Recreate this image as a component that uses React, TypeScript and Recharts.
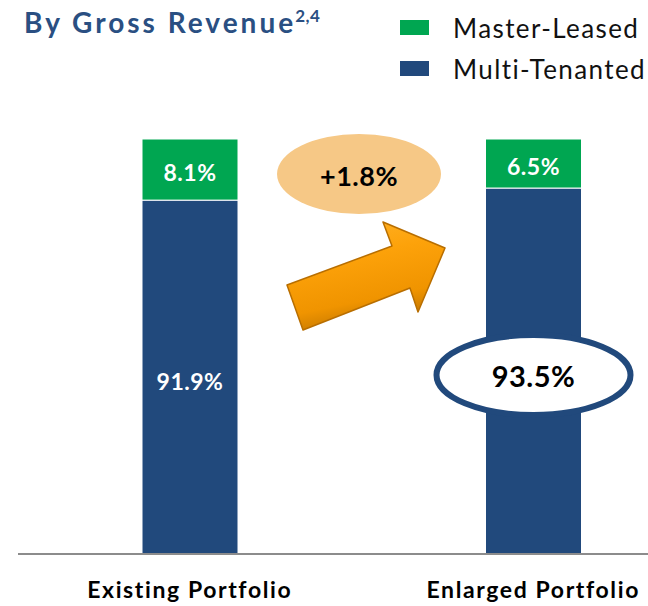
import { BarChart, Bar, XAxis, YAxis, LabelList, Legend } from 'recharts';

const categories = ['Existing Portfolio', 'Enlarged Portfolio'];
const masterLeased = [8.1, 6.5];
const multiTenanted = [91.9, 93.5];
const seriesNames = ['Master-Leased', 'Multi-Tenanted'];
const changeLabel = '+1.8%';
// the value axis is cut: bars start at 45%, not at zero
const axisFloor = 45;

const data = categories.map((name, i) => ({
  name,
  multi: multiTenanted[i],
  master: masterLeased[i],
}));

const CHART_W = 705;
const CHART_H = 606;
const MARGIN = { top: 139, right: 0, left: 18, bottom: 0 };
const X_AXIS_H = 52;
const PLOT_BOTTOM = CHART_H - MARGIN.bottom - X_AXIS_H;

const BLUE = '#21497c';
const GREEN = '#00a651';
const FONT = 'Lato, "DejaVu Sans", sans-serif';

function MasterLabel(props: any) {
  const { x, y, width, height, value } = props;
  return (
    <text
      x={x + width / 2}
      y={y + height / 2 + 2}
      fill="#fff"
      fontFamily={FONT}
      fontWeight={700}
      fontSize={23}
      letterSpacing={0.5}
      textAnchor="middle"
      dominantBaseline="central"
    >
      {value}%
    </text>
  );
}

function MultiLabel(props: any) {
  const { x, y, width, height, value, index } = props;
  const cx = x + width / 2;
  const bottom = Math.min(y + height, PLOT_BOTTOM);
  const cy = (y + bottom) / 2 + 4;

  // the enlarged portfolio value is called out in a ring
  if (index === 1) {
    return (
      <g>
        <ellipse cx={cx} cy={cy} rx={97} ry={40} fill="#fff" stroke={BLUE} strokeWidth={6} />
        <text
          x={cx}
          y={cy}
          fill="#000"
          fontFamily={FONT}
          fontWeight={700}
          fontSize={29}
          letterSpacing={0.5}
          textAnchor="middle"
          dominantBaseline="central"
        >
          {value}%
        </text>
      </g>
    );
  }
  return (
    <text
      x={cx}
      y={cy}
      fill="#fff"
      fontFamily={FONT}
      fontWeight={700}
      fontSize={23}
      letterSpacing={0.5}
      textAnchor="middle"
      dominantBaseline="central"
    >
      {value}%
    </text>
  );
}

function LegendBox() {
  const colors = [GREEN, BLUE];
  return (
    <div style={{ fontFamily: FONT }}>
      {seriesNames.map((name, i) => (
        <div key={name} style={{ display: 'flex', alignItems: 'center', height: 41 }}>
          <span style={{ width: 29, height: 15, background: colors[i], display: 'inline-block' }} />
          <span
            style={{ marginLeft: 24, fontSize: 26, letterSpacing: 1.4, color: '#111', lineHeight: 1 }}
          >
            {name}
          </span>
        </div>
      ))}
    </div>
  );
}

export default function App() {
  return (
    <div
      style={{
        position: 'absolute',
        left: 0,
        top: 0,
        width: 648,
        height: 606,
        overflow: 'hidden',
        background: '#fff',
      }}
    >
      <BarChart width={CHART_W} height={CHART_H} data={data} margin={MARGIN}>
        <XAxis
          dataKey="name"
          height={X_AXIS_H}
          axisLine={{ stroke: '#8c8c8c', strokeWidth: 2 }}
          tickLine={false}
          tickMargin={22}
          tick={{ fill: '#000', fontSize: 23, fontWeight: 700, fontFamily: FONT, letterSpacing: 1.6 }}
        />
        <YAxis hide domain={[axisFloor, 100]} allowDataOverflow />
        <Legend
          layout="vertical"
          align="center"
          verticalAlign="middle"
          wrapperStyle={{ top: 7, left: 400, width: 248 }}
          content={() => <LegendBox />}
        />
        <Bar
          dataKey="multi"
          stackId="a"
          fill={BLUE}
          barSize={96}
          stroke="#fff"
          strokeWidth={1}
          isAnimationActive={false}
        >
          <LabelList dataKey="multi" content={MultiLabel} />
        </Bar>
        <Bar
          dataKey="master"
          stackId="a"
          fill={GREEN}
          barSize={96}
          stroke="#fff"
          strokeWidth={1}
          isAnimationActive={false}
        >
          <LabelList dataKey="master" content={MasterLabel} />
        </Bar>
      </BarChart>

      {/* title, change bubble and arrow */}
      <svg
        width={648}
        height={606}
        style={{ position: 'absolute', left: 0, top: 0, pointerEvents: 'none' }}
      >
        <defs>
          <linearGradient id="arrowFill" x1="0" y1="0" x2="0.3" y2="1">
            <stop offset="0%" stopColor="#ffb42a" />
            <stop offset="40%" stopColor="#fda20a" />
            <stop offset="80%" stopColor="#f09400" />
            <stop offset="100%" stopColor="#c87a00" />
          </linearGradient>
        </defs>
        <text
          x={24}
          y={33}
          fill="#2a4f82"
          fontFamily={FONT}
          fontWeight={700}
          fontSize={28}
          letterSpacing={3}
        >
          By Gross Revenue
          <tspan fontSize={17} letterSpacing={0.5} dx={-1} dy={-11}>
            2,4
          </tspan>
        </text>

        <ellipse cx={359} cy={174} rx={82} ry={40} fill="#f6c886" />
        <text
          x={359}
          y={175}
          fill="#000"
          fontFamily={FONT}
          fontWeight={700}
          fontSize={27}
          letterSpacing={0.5}
          textAnchor="middle"
          dominantBaseline="central"
        >
          {changeLabel}
        </text>

        <polygon
          points="287,285 392,246 383,222 445,248 418,312 410,288 303,330"
          fill="url(#arrowFill)"
          stroke="#b86e00"
          strokeWidth={1.5}
          strokeLinejoin="round"
        />
      </svg>
    </div>
  );
}
